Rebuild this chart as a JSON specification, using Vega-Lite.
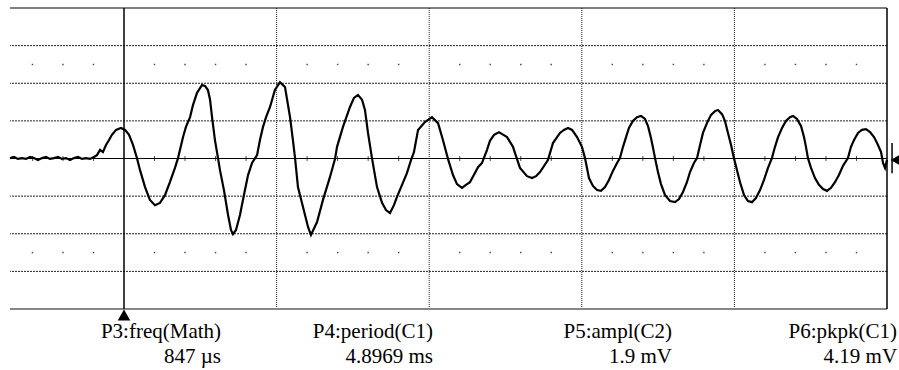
{
  "$schema": "https://vega.github.io/schema/vega-lite/v6.json",
  "autosize": "none",
  "padding": {"left": 10, "top": 8, "right": 12, "bottom": 61},
  "width": 877,
  "height": 301,
  "background": "white",
  "config": {"view": {"stroke": null}},
  "datasets": {
    "hgrid": [{"v": -3}, {"v": -2}, {"v": -1}, {"v": 1}, {"v": 2}, {"v": 3}],
    "vgrid": [{"t": 10}, {"t": 20}, {"t": 30}, {"t": 40}],
    "hsolid": [{"v": 4}, {"v": 0}],
    "hbottom": [{"v": -4}],
    "vsolid": [{"t": 0}, {"t": 50}],
    "minor": [{"t": -6}, {"t": -4}, {"t": -2}, {"t": 2}, {"t": 4}, {"t": 6}, {"t": 8}, {"t": 12}, {"t": 14}, {"t": 16}, {"t": 18}, {"t": 22}, {"t": 24}, {"t": 26}, {"t": 28}, {"t": 32}, {"t": 34}, {"t": 36}, {"t": 38}, {"t": 42}, {"t": 44}, {"t": 46}, {"t": 48}],
    "dots": [
      {"t": -6, "v": 2.5}, {"t": -4, "v": 2.5}, {"t": -2, "v": 2.5}, {"t": 2, "v": 2.5}, {"t": 4, "v": 2.5}, {"t": 6, "v": 2.5}, {"t": 8, "v": 2.5}, {"t": 12, "v": 2.5}, {"t": 14, "v": 2.5}, {"t": 16, "v": 2.5}, {"t": 18, "v": 2.5}, {"t": 22, "v": 2.5}, {"t": 24, "v": 2.5}, {"t": 26, "v": 2.5}, {"t": 28, "v": 2.5}, {"t": 32, "v": 2.5}, {"t": 34, "v": 2.5}, {"t": 36, "v": 2.5}, {"t": 38, "v": 2.5}, {"t": 42, "v": 2.5}, {"t": 44, "v": 2.5}, {"t": 46, "v": 2.5}, {"t": 48, "v": 2.5},
      {"t": -6, "v": -2.5}, {"t": -4, "v": -2.5}, {"t": -2, "v": -2.5}, {"t": 2, "v": -2.5}, {"t": 4, "v": -2.5}, {"t": 6, "v": -2.5}, {"t": 8, "v": -2.5}, {"t": 12, "v": -2.5}, {"t": 14, "v": -2.5}, {"t": 16, "v": -2.5}, {"t": 18, "v": -2.5}, {"t": 22, "v": -2.5}, {"t": 24, "v": -2.5}, {"t": 26, "v": -2.5}, {"t": 28, "v": -2.5}, {"t": 32, "v": -2.5}, {"t": 34, "v": -2.5}, {"t": 36, "v": -2.5}, {"t": 38, "v": -2.5}, {"t": 42, "v": -2.5}, {"t": 44, "v": -2.5}, {"t": 46, "v": -2.5}, {"t": 48, "v": -2.5}
    ],
    "trace": [
      {"t": -7.47, "v": 0.01}, {"t": -7.21, "v": 0.04}, {"t": -6.95, "v": -0.01}, {"t": -6.68, "v": 0.01}, {"t": -6.42, "v": -0.01}, {"t": -6.16, "v": 0.04}, {"t": -5.90, "v": 0.01}, {"t": -5.64, "v": -0.04}, {"t": -5.37, "v": 0.01}, {"t": -5.11, "v": 0.04}, {"t": -4.85, "v": -0.01}, {"t": -4.59, "v": 0.01}, {"t": -4.32, "v": 0.04}, {"t": -4.06, "v": -0.01}, {"t": -3.80, "v": 0.01}, {"t": -3.54, "v": -0.04}, {"t": -3.28, "v": 0.01}, {"t": -3.01, "v": 0.04}, {"t": -2.75, "v": -0.01}, {"t": -2.49, "v": 0.01}, {"t": -2.23, "v": -0.01}, {"t": -1.97, "v": 0.04},
      {"t": -1.77, "v": 0.09}, {"t": -1.57, "v": 0.23}, {"t": -1.38, "v": 0.17}, {"t": -1.18, "v": 0.36}, {"t": -0.98, "v": 0.49}, {"t": -0.79, "v": 0.63}, {"t": -0.52, "v": 0.76}, {"t": -0.20, "v": 0.81}, {"t": 0.07, "v": 0.76}, {"t": 0.33, "v": 0.63}, {"t": 0.59, "v": 0.36}, {"t": 0.85, "v": 0.01}, {"t": 1.05, "v": -0.31}, {"t": 1.38, "v": -0.76}, {"t": 1.70, "v": -1.10}, {"t": 2.03, "v": -1.24}, {"t": 2.36, "v": -1.18}, {"t": 2.69, "v": -0.97}, {"t": 3.01, "v": -0.63}, {"t": 3.34, "v": -0.25}, {"t": 3.54, "v": 0.01},
      {"t": 3.87, "v": 0.57}, {"t": 4.06, "v": 0.84}, {"t": 4.33, "v": 1.10}, {"t": 4.52, "v": 1.42}, {"t": 4.78, "v": 1.74}, {"t": 5.11, "v": 1.95}, {"t": 5.31, "v": 1.93}, {"t": 5.50, "v": 1.82}, {"t": 5.64, "v": 1.56}, {"t": 5.77, "v": 1.10}, {"t": 5.96, "v": 0.49}, {"t": 6.16, "v": 0.01}, {"t": 6.29, "v": -0.31}, {"t": 6.55, "v": -0.84}, {"t": 6.82, "v": -1.50}, {"t": 7.01, "v": -1.90}, {"t": 7.14, "v": -2.01}, {"t": 7.34, "v": -1.90}, {"t": 7.60, "v": -1.50}, {"t": 7.86, "v": -0.97}, {"t": 8.13, "v": -0.44}, {"t": 8.39, "v": -0.12},
      {"t": 8.72, "v": 0.09}, {"t": 8.91, "v": 0.49}, {"t": 9.11, "v": 0.84}, {"t": 9.31, "v": 1.10}, {"t": 9.57, "v": 1.37}, {"t": 9.89, "v": 1.82}, {"t": 10.22, "v": 2.03}, {"t": 10.55, "v": 1.90}, {"t": 10.88, "v": 1.10}, {"t": 11.07, "v": 0.49}, {"t": 11.21, "v": 0.01}, {"t": 11.40, "v": -0.76}, {"t": 11.73, "v": -1.29}, {"t": 12.06, "v": -1.82}, {"t": 12.25, "v": -2.03}, {"t": 12.65, "v": -1.69}, {"t": 13.04, "v": -1.10}, {"t": 13.50, "v": -0.49}, {"t": 13.83, "v": -0.01},
      {"t": 13.96, "v": 0.31}, {"t": 14.35, "v": 0.84}, {"t": 14.81, "v": 1.37}, {"t": 15.07, "v": 1.61}, {"t": 15.33, "v": 1.69}, {"t": 15.60, "v": 1.56}, {"t": 15.79, "v": 1.29}, {"t": 15.99, "v": 0.68}, {"t": 16.25, "v": 0.01}, {"t": 16.58, "v": -0.76}, {"t": 16.91, "v": -1.18}, {"t": 17.17, "v": -1.37}, {"t": 17.43, "v": -1.45}, {"t": 17.69, "v": -1.24}, {"t": 17.89, "v": -1.02}, {"t": 18.22, "v": -0.70}, {"t": 18.54, "v": -0.39}, {"t": 18.81, "v": -0.04}, {"t": 19.00, "v": 0.17},
      {"t": 19.27, "v": 0.76}, {"t": 19.72, "v": 0.97}, {"t": 20.18, "v": 1.10}, {"t": 20.58, "v": 0.94}, {"t": 20.90, "v": 0.49}, {"t": 21.23, "v": -0.01}, {"t": 21.56, "v": -0.44}, {"t": 21.82, "v": -0.68}, {"t": 22.15, "v": -0.78}, {"t": 22.41, "v": -0.70}, {"t": 22.67, "v": -0.63}, {"t": 23.20, "v": -0.23}, {"t": 23.46, "v": -0.12}, {"t": 23.79, "v": 0.23}, {"t": 23.98, "v": 0.47}, {"t": 24.25, "v": 0.63}, {"t": 24.57, "v": 0.70}, {"t": 25.10, "v": 0.57}, {"t": 25.49, "v": 0.31}, {"t": 25.75, "v": -0.01},
      {"t": 25.95, "v": -0.25}, {"t": 26.41, "v": -0.47}, {"t": 26.74, "v": -0.52}, {"t": 27.00, "v": -0.47}, {"t": 27.26, "v": -0.36}, {"t": 27.78, "v": -0.04}, {"t": 28.11, "v": 0.41}, {"t": 28.57, "v": 0.68}, {"t": 28.83, "v": 0.76}, {"t": 29.10, "v": 0.81}, {"t": 29.36, "v": 0.76}, {"t": 29.69, "v": 0.57}, {"t": 30.01, "v": 0.31}, {"t": 30.21, "v": 0.01},
      {"t": 30.47, "v": -0.52}, {"t": 30.73, "v": -0.73}, {"t": 31.00, "v": -0.84}, {"t": 31.26, "v": -0.86}, {"t": 31.52, "v": -0.76}, {"t": 31.78, "v": -0.57}, {"t": 32.04, "v": -0.33}, {"t": 32.31, "v": -0.12}, {"t": 32.50, "v": 0.01}, {"t": 32.70, "v": 0.31}, {"t": 32.90, "v": 0.57}, {"t": 33.09, "v": 0.81}, {"t": 33.35, "v": 1.00}, {"t": 33.62, "v": 1.10}, {"t": 33.88, "v": 1.13}, {"t": 34.14, "v": 1.05}, {"t": 34.34, "v": 0.86}, {"t": 34.53, "v": 0.55}, {"t": 34.67, "v": 0.28}, {"t": 34.80, "v": 0.01},
      {"t": 34.99, "v": -0.36}, {"t": 35.19, "v": -0.68}, {"t": 35.45, "v": -0.97}, {"t": 35.78, "v": -1.13}, {"t": 36.11, "v": -1.16}, {"t": 36.37, "v": -1.08}, {"t": 36.63, "v": -0.89}, {"t": 36.89, "v": -0.63}, {"t": 37.09, "v": -0.36}, {"t": 37.35, "v": -0.12}, {"t": 37.55, "v": 0.01}, {"t": 37.75, "v": 0.36}, {"t": 37.94, "v": 0.68}, {"t": 38.20, "v": 0.94}, {"t": 38.47, "v": 1.16}, {"t": 38.73, "v": 1.26}, {"t": 38.92, "v": 1.29}, {"t": 39.19, "v": 1.18}, {"t": 39.38, "v": 1.00}, {"t": 39.58, "v": 0.68}, {"t": 39.78, "v": 0.36}, {"t": 39.97, "v": 0.01},
      {"t": 40.17, "v": -0.31}, {"t": 40.37, "v": -0.63}, {"t": 40.63, "v": -0.97}, {"t": 40.89, "v": -1.13}, {"t": 41.15, "v": -1.16}, {"t": 41.41, "v": -1.05}, {"t": 41.68, "v": -0.84}, {"t": 41.94, "v": -0.57}, {"t": 42.20, "v": -0.25}, {"t": 42.46, "v": 0.01}, {"t": 42.66, "v": 0.31}, {"t": 42.86, "v": 0.57}, {"t": 43.12, "v": 0.81}, {"t": 43.38, "v": 1.00}, {"t": 43.64, "v": 1.10}, {"t": 43.84, "v": 1.13}, {"t": 44.10, "v": 1.05}, {"t": 44.37, "v": 0.86}, {"t": 44.56, "v": 0.57}, {"t": 44.69, "v": 0.31}, {"t": 44.82, "v": 0.01},
      {"t": 45.02, "v": -0.25}, {"t": 45.28, "v": -0.52}, {"t": 45.54, "v": -0.70}, {"t": 45.81, "v": -0.81}, {"t": 46.07, "v": -0.86}, {"t": 46.33, "v": -0.78}, {"t": 46.59, "v": -0.63}, {"t": 46.85, "v": -0.44}, {"t": 47.11, "v": -0.20}, {"t": 47.44, "v": 0.01}, {"t": 47.64, "v": 0.31}, {"t": 47.84, "v": 0.49}, {"t": 48.10, "v": 0.68}, {"t": 48.36, "v": 0.76}, {"t": 48.62, "v": 0.78}, {"t": 48.89, "v": 0.70}, {"t": 49.15, "v": 0.57}, {"t": 49.41, "v": 0.36}, {"t": 49.61, "v": 0.17}, {"t": 49.74, "v": -0.12}, {"t": 49.87, "v": -0.25}, {"t": 50.00, "v": -0.04}
    ],
    "labels": [
      {"t": 6.36, "v": -4.77, "text": "P3:freq(Math)"},
      {"t": 6.36, "v": -5.44, "text": "847 µs"},
      {"t": 20.25, "v": -4.77, "text": "P4:period(C1)"},
      {"t": 20.25, "v": -5.44, "text": "4.8969 ms"},
      {"t": 35.91, "v": -4.77, "text": "P5:ampl(C2)"},
      {"t": 35.91, "v": -5.44, "text": "1.9 mV"},
      {"t": 50.66, "v": -4.77, "text": "P6:pkpk(C1)"},
      {"t": 50.66, "v": -5.44, "text": "4.19 mV"}
    ],
    "cursor": [{"t": 0, "v": -4.16}],
    "trig": [{"t": 50.55, "v": -0.04}],
    "trigbar": [{"t": 50.33, "v": 0.41, "v2": -0.39}]
  },
  "encoding": {},
  "layer": [
    {
      "data": {"name": "hgrid"},
      "mark": {"type": "rule", "color": "#222", "strokeWidth": 1, "strokeDash": [2, 1]},
      "encoding": {"y": {"field": "v", "type": "quantitative", "scale": {"domain": [-4, 4], "nice": false, "zero": false}, "axis": null}}
    },
    {
      "data": {"name": "vgrid"},
      "mark": {"type": "rule", "color": "#222", "strokeWidth": 1, "strokeDash": [1, 1]},
      "encoding": {"x": {"field": "t", "type": "quantitative", "scale": {"domain": [-7.47, 50], "nice": false, "zero": false}, "axis": null}}
    },
    {
      "data": {"name": "minor"},
      "mark": {"type": "tick", "orient": "vertical", "color": "black", "size": 5, "thickness": 1},
      "encoding": {
        "x": {"field": "t", "type": "quantitative", "scale": {"domain": [-7.47, 50], "nice": false, "zero": false}, "axis": null},
        "y": {"datum": 0, "type": "quantitative", "scale": {"domain": [-4, 4], "nice": false, "zero": false}, "axis": null}
      }
    },
    {
      "data": {"name": "dots"},
      "mark": {"type": "point", "shape": "square", "filled": true, "color": "#444", "size": 2, "opacity": 1},
      "encoding": {
        "x": {"field": "t", "type": "quantitative", "scale": {"domain": [-7.47, 50], "nice": false, "zero": false}, "axis": null},
        "y": {"field": "v", "type": "quantitative", "scale": {"domain": [-4, 4], "nice": false, "zero": false}, "axis": null}
      }
    },
    {
      "data": {"name": "hsolid"},
      "mark": {"type": "rule", "color": "black", "strokeWidth": 1.2},
      "encoding": {"y": {"field": "v", "type": "quantitative", "scale": {"domain": [-4, 4], "nice": false, "zero": false}, "axis": null}}
    },
    {
      "data": {"name": "hbottom"},
      "mark": {"type": "rule", "color": "#888", "strokeWidth": 2},
      "encoding": {"y": {"field": "v", "type": "quantitative", "scale": {"domain": [-4, 4], "nice": false, "zero": false}, "axis": null}}
    },
    {
      "data": {"name": "vsolid"},
      "mark": {"type": "rule", "color": "black", "strokeWidth": 1.5},
      "encoding": {"x": {"field": "t", "type": "quantitative", "scale": {"domain": [-7.47, 50], "nice": false, "zero": false}, "axis": null}}
    },
    {
      "data": {"name": "trace"},
      "mark": {"type": "line", "color": "black", "strokeWidth": 2.2, "interpolate": "linear", "clip": false},
      "encoding": {
        "x": {"field": "t", "type": "quantitative", "scale": {"domain": [-7.47, 50], "nice": false, "zero": false}, "axis": null},
        "y": {"field": "v", "type": "quantitative", "scale": {"domain": [-4, 4], "nice": false, "zero": false}, "axis": null}
      }
    },
    {
      "data": {"name": "cursor"},
      "mark": {"type": "point", "shape": "triangle-up", "filled": true, "color": "black", "size": 160, "opacity": 1},
      "encoding": {
        "x": {"field": "t", "type": "quantitative", "scale": {"domain": [-7.47, 50], "nice": false, "zero": false}, "axis": null},
        "y": {"field": "v", "type": "quantitative", "scale": {"domain": [-4, 4], "nice": false, "zero": false}, "axis": null}
      }
    },
    {
      "data": {"name": "trig"},
      "mark": {"type": "point", "shape": "triangle-left", "filled": true, "color": "black", "size": 120, "opacity": 1},
      "encoding": {
        "x": {"field": "t", "type": "quantitative", "scale": {"domain": [-7.47, 50], "nice": false, "zero": false}, "axis": null},
        "y": {"field": "v", "type": "quantitative", "scale": {"domain": [-4, 4], "nice": false, "zero": false}, "axis": null}
      }
    },
    {
      "data": {"name": "trigbar"},
      "mark": {"type": "rule", "color": "black", "strokeWidth": 1.5},
      "encoding": {
        "x": {"field": "t", "type": "quantitative", "scale": {"domain": [-7.47, 50], "nice": false, "zero": false}, "axis": null},
        "y": {"field": "v", "type": "quantitative", "scale": {"domain": [-4, 4], "nice": false, "zero": false}, "axis": null},
        "y2": {"field": "v2"}
      }
    },
    {
      "data": {"name": "labels"},
      "mark": {"type": "text", "font": "Liberation Serif, Times New Roman, serif", "fontSize": 21, "color": "black", "align": "right", "baseline": "alphabetic"},
      "encoding": {
        "x": {"field": "t", "type": "quantitative", "scale": {"domain": [-7.47, 50], "nice": false, "zero": false}, "axis": null},
        "y": {"field": "v", "type": "quantitative", "scale": {"domain": [-4, 4], "nice": false, "zero": false}, "axis": null},
        "text": {"field": "text"}
      }
    }
  ]
}
